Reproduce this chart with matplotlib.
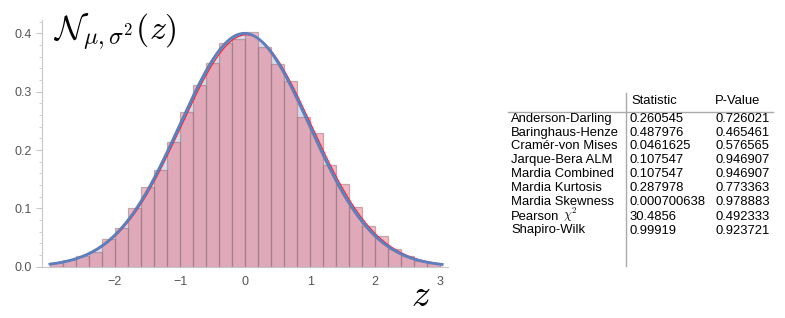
import numpy as np
import matplotlib
matplotlib.use("Agg")
import matplotlib.pyplot as plt

plt.rcParams['mathtext.fontset'] = 'cm'
plt.rcParams['font.family'] = ['Liberation Sans', 'DejaVu Sans']

# histogram (density), bins of 0.2 from -3 to 3
bin_edges = np.round(np.arange(-3.0, 3.01, 0.2), 2)
density = [0.006, 0.011, 0.018, 0.026, 0.048, 0.067, 0.100, 0.136, 0.166, 0.213,
           0.266, 0.311, 0.349, 0.383, 0.390, 0.403, 0.376, 0.347, 0.318, 0.257,
           0.230, 0.174, 0.142, 0.102, 0.070, 0.053, 0.031, 0.018, 0.010, 0.006]

# fitted (blue) and reference (red) normal curves
mu_fit, sigma_fit = -0.01, 0.997
mu_ref, sigma_ref = 0.02, 1.003

# test table
tests = ["Anderson-Darling", "Baringhaus-Henze", "Cramér-von Mises", "Jarque-Bera ALM",
         "Mardia Combined", "Mardia Kurtosis", "Mardia Skewness", "Pearson",
         "Shapiro-Wilk"]
statistic = ["0.260545", "0.487976", "0.0461625", "0.107547", "0.107547",
             "0.287978", "0.000700638", "30.4856", "0.99919"]
p_value = ["0.726021", "0.465461", "0.576565", "0.946907", "0.946907",
           "0.773363", "0.978883", "0.492333", "0.923721"]


def pdf(x, m, s):
    return np.exp(-0.5 * ((x - m) / s) ** 2) / (s * np.sqrt(2 * np.pi))


W, H = 785, 318
fig = plt.figure(figsize=(W / 100, H / 100), dpi=100)
ax = fig.add_axes([41.5 / W, 1 - 266.7 / H, (448 - 41.5) / W, (266.7 - 20) / H])

x = np.linspace(-3.0, 3.03, 400)
ax.fill_between(x, 0, pdf(x, mu_fit, sigma_fit), color='#d6dcea', lw=0, zorder=1)
ax.bar(bin_edges[:-1], density, width=0.2, align='edge', color='#e8778a', alpha=0.5,
       edgecolor='#8c7078', linewidth=0.9, zorder=2)
ax.plot(x, pdf(x, mu_ref, sigma_ref), color='#e8323c', lw=1.0, zorder=3)
ax.plot(x, pdf(x, mu_fit, sigma_fit), color='#5b7fbf', lw=2.0, zorder=4)

ax.set_xlim(-3.13, 3.12)
ax.set_ylim(0, 0.423)
ax.set_xticks([-2, -1, 0, 1, 2, 3])
ax.set_xticklabels(['\u22122', '\u22121', '0', '1', '2', '3'])
ax.set_yticks([0.0, 0.1, 0.2, 0.3, 0.4])
ax.set_yticks(np.arange(0, 0.421, 0.02), minor=True)
ax.tick_params(axis='x', length=0, labelsize=9, colors='#555555', pad=7)
ax.tick_params(axis='y', which='major', length=4, labelsize=9, colors='#555555',
               direction='out', pad=3)
ax.tick_params(axis='y', which='minor', length=2, color='#c8c8c8')
ax.tick_params(axis='y', which='major', color='#c8c8c8')
for side in ['top', 'right']:
    ax.spines[side].set_visible(False)
for side in ['left', 'bottom']:
    ax.spines[side].set_color('#c8c8c8')
    ax.spines[side].set_linewidth(0.8)

fig.text(53 / W, 1 - 32 / H, r'$\mathcal{N}_{\mu,\sigma^2}(z)$', fontsize=24.5,
         va='center', ha='left')
fig.text(421 / W, 1 - 296 / H, r'$z$', fontsize=27, va='center', ha='center')

# table
row_y = [119, 132.7, 146, 160, 173.7, 188, 202, 216.5, 230.5]
fs = 9.4
fig.text(631 / W, 1 - 100.5 / H, "Statistic", fontsize=fs, va='center', ha='left')
fig.text(715 / W, 1 - 100.5 / H, "P-Value", fontsize=fs, va='center', ha='left')
for name, st, pv, yy in zip(tests, statistic, p_value, row_y):
    fig.text(511 / W, 1 - yy / H, name, fontsize=fs, va='center', ha='left')
    fig.text(629 / W, 1 - yy / H, st, fontsize=fs, va='center', ha='left')
    fig.text(715 / W, 1 - yy / H, pv, fontsize=fs, va='center', ha='left')
# chi-square symbol after "Pearson"
fig.text(563 / W, 1 - 219.5 / H, r'$\chi^2$', fontsize=9, va='baseline', ha='left')

fig.add_artist(plt.Line2D([625.7 / W, 625.7 / W], [1 - 93 / H, 1 - 266 / H],
                          color='#aaaaaa', lw=1.0))
fig.add_artist(plt.Line2D([508 / W, 773 / W], [1 - 111.5 / H, 1 - 111.5 / H],
                          color='#aaaaaa', lw=1.0))

fig.savefig('out.png', dpi=100)
